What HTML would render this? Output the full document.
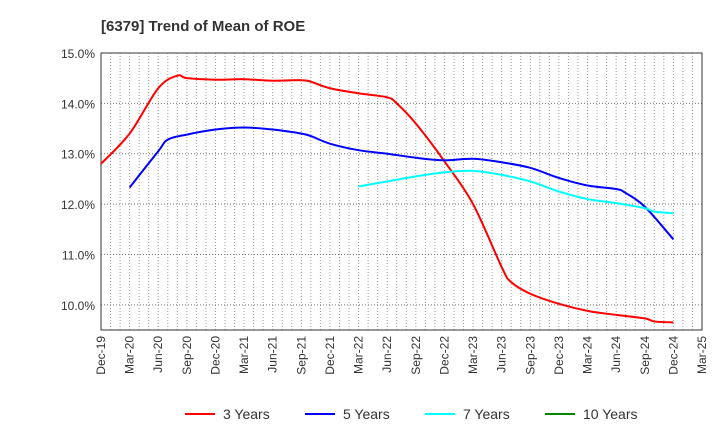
<!DOCTYPE html>
<html><head><meta charset="utf-8"><style>
body{margin:0;background:#fff;font-family:"Liberation Sans",sans-serif}
</style></head><body>
<svg id="c" width="720" height="440" xmlns="http://www.w3.org/2000/svg">
<text x="101" y="31" font-size="15" font-weight="bold" fill="#333">[6379]  Trend of Mean of ROE</text>
</svg>
<script>
const xTickLabels=["Dec-19","Mar-20","Jun-20","Sep-20","Dec-20","Mar-21","Jun-21","Sep-21","Dec-21","Mar-22","Jun-22","Sep-22","Dec-22","Mar-23","Jun-23","Sep-23","Dec-23","Mar-24","Jun-24","Sep-24","Dec-24","Mar-25"];
const yTicks=[10,11,12,13,14,15];
const m3=[0,3,6,8,9,12,15,18,21,22,24,27,30,31,33,36,39,42,43,45,48,51,54,57,58,60];
const v3=[12.8,13.4,14.3,14.55,14.5,14.47,14.48,14.45,14.46,14.43,14.3,14.2,14.12,14.0,13.6,12.85,12.0,10.75,10.45,10.22,10.02,9.88,9.8,9.73,9.67,9.65];
const m5=[3,6,7,9,12,15,18,21,22,24,27,30,33,36,39,42,45,48,51,54,55,57,60];
const v5=[12.33,13.05,13.28,13.38,13.48,13.52,13.48,13.4,13.35,13.2,13.07,13.0,12.92,12.87,12.9,12.83,12.72,12.52,12.37,12.3,12.22,11.95,11.3];
const m7=[27,30,33,36,39,42,45,48,51,54,57,58,60];
const v7=[12.35,12.45,12.55,12.63,12.66,12.58,12.45,12.25,12.1,12.02,11.92,11.85,11.82];
const m10=[];const v10=[];
const L=101,R=702,T=53,B=330,MAXM=63;
const X=m=>L+m*(R-L)/MAXM, Y=v=>T+(15-v)*(B-T)/5.5;
const svg=document.getElementById('c'),NS="http://www.w3.org/2000/svg";
function mk(t,a,p){const e=document.createElementNS(NS,t);for(const k in a)e.setAttribute(k,a[k]);(p||svg).appendChild(e);return e;}
for(let m=1;m<MAXM;m++){const l=mk('line',{x1:X(m),x2:X(m),y1:T,y2:B,stroke:'#999','stroke-dasharray':'1,2','stroke-width':1});

}
yTicks.forEach(v=>{const l=mk('line',{x1:L,x2:R,y1:Y(v),y2:Y(v),stroke:'#777','stroke-dasharray':'1,2'});


const t=mk('text',{x:L-6,y:Y(v)+5,'text-anchor':'end','font-size':12,fill:'#333'});t.textContent=v.toFixed(1)+'%';

});
const fr=mk('rect',{x:L,y:T,width:R-L,height:B-T,fill:'none',stroke:'#333'});


xTickLabels.forEach((s,i)=>{const x=X(i*3);const t=mk('text',{x:0,y:0,'text-anchor':'end','font-size':12,fill:'#333',transform:`translate(${x+4},${B+6}) rotate(-90)`});t.textContent=s;

});
function series(ms,vs,col,name){if(!ms.length)return;
const P=ms.map((m,i)=>[X(m),Y(vs[i])]);
let d='M'+P[0][0]+','+P[0][1];
for(let i=0;i<P.length-1;i++){const p0=P[i-1]||P[i],p1=P[i],p2=P[i+1],p3=P[i+2]||p2;
const c1=[p1[0]+(p2[0]-p0[0])/6,p1[1]+(p2[1]-p0[1])/6],c2=[p2[0]-(p3[0]-p1[0])/6,p2[1]-(p3[1]-p1[1])/6];
d+=` C${c1[0]},${c1[1]} ${c2[0]},${c2[1]} ${p2[0]},${p2[1]}`;}
const p=mk('path',{d:d,fill:'none',stroke:col,'stroke-width':2,'stroke-linejoin':'round'});

}
series(m3,v3,'#f00','line-3-years');series(m5,v5,'#00f','line-5-years');series(m7,v7,'#0ff','line-7-years');series(m10,v10,'#080','line-10-years');
[['3 Years','#f00',185],['5 Years','#00f',305],['7 Years','#0ff',425],['10 Years','#080',545]].forEach(([n,c,x])=>{
const g=mk('g',{});

mk('line',{x1:x,x2:x+30,y1:414,y2:414,stroke:c,'stroke-width':2},g);
const t=mk('text',{x:x+38,y:419,'font-size':14,fill:'#333'},g);t.textContent=n;});
</script>
</body></html>
